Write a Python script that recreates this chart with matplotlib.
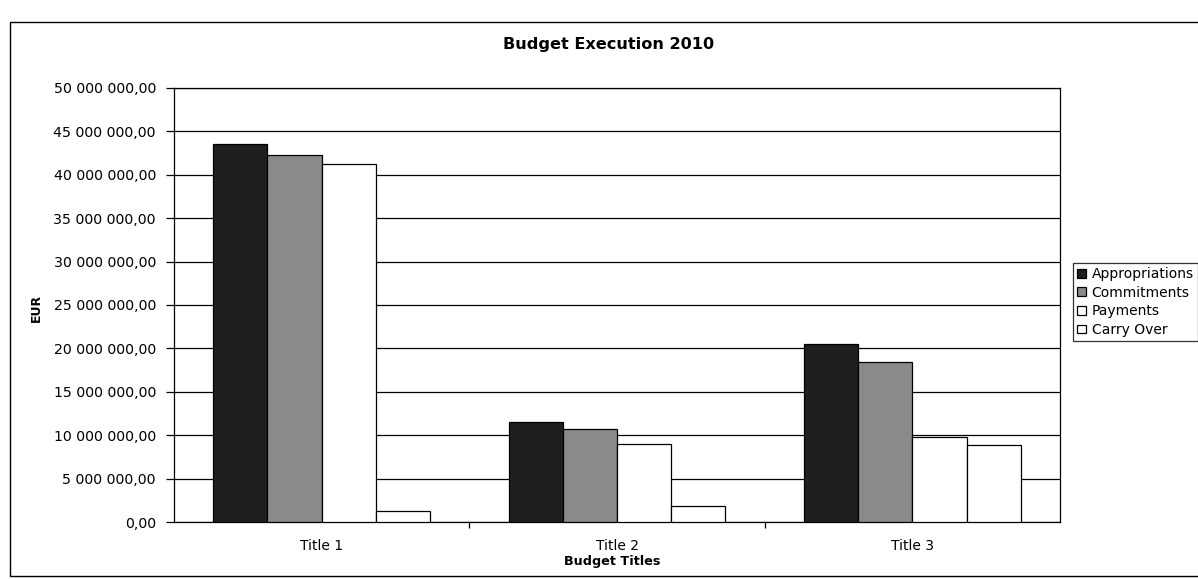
import matplotlib
matplotlib.use("Agg")
import matplotlib.pyplot as plt
from matplotlib.patches import Rectangle, Patch
from matplotlib.ticker import FuncFormatter, FixedLocator, MultipleLocator
import numpy as np

# ---- data ----
categories = ["Title 1", "Title 2", "Title 3"]
series_names = ["Appropriations", "Commitments", "Payments", "Carry Over"]
appropriations = [43.5e6, 11.5e6, 20.5e6]
commitments = [42.3e6, 10.7e6, 18.4e6]
payments = [41.3e6, 9.0e6, 9.8e6]
carry_over = [1.3e6, 1.9e6, 8.85e6]

series_values = [appropriations, commitments, payments, carry_over]
colors = ["#1f1f1f", "#8a8a8a", "#ffffff", "#ffffff"]

W, H = 1198, 579
fig = plt.figure(figsize=(W / 100, H / 100), dpi=100)
fig.patch.set_facecolor("white")
plt.rcParams["font.family"] = ["DejaVu Sans"]

# outer chart frame
fig.patches.append(Rectangle((10 / W, 1 - 576 / H), (1250 - 10) / W, (576 - 22) / H,
                             transform=fig.transFigure, fill=False,
                             edgecolor="black", linewidth=1.0))

left, right, top, bottom = 174, 1060, 88, 522
ax = fig.add_axes([left / W, 1 - bottom / H, (right - left) / W, (bottom - top) / H])

x = np.arange(len(categories))
bw = 0.1835
offsets = (np.arange(4) - 1.5) * bw
for vals, off, col, name in zip(series_values, offsets, colors, series_names):
    ax.bar(x + off, vals, width=bw, color=col, edgecolor="black", linewidth=0.9,
           label=name, zorder=3)

ax.set_xlim(-0.5, len(categories) - 0.5)
ax.set_ylim(0, 50e6)
ax.yaxis.set_major_locator(MultipleLocator(5e6))
ax.yaxis.set_major_formatter(FuncFormatter(
    lambda v, p: f"{v:,.2f}".replace(",", " ").replace(".", ",")))
ax.grid(axis="y", color="black", linewidth=0.9, zorder=0)

ax.set_xticks(x)
ax.set_xticklabels(categories)
ax.xaxis.set_minor_locator(FixedLocator([0.5, 1.5]))
ax.tick_params(axis="x", which="major", length=0, pad=12, labelsize=10)
ax.tick_params(axis="x", which="minor", length=4, direction="out", width=0.9)
ax.tick_params(axis="y", length=6, direction="out", width=0.9, pad=7, labelsize=10.2)

for s in ax.spines.values():
    s.set_linewidth(0.9)
    s.set_color("black")

# titles
fig.text(609 / W, 1 - 44 / H, "Budget Execution 2010", ha="center", va="center",
         fontsize=11.6, fontweight="bold")
fig.text(612 / W, 1 - 561 / H, "Budget Titles", ha="center", va="center",
         fontsize=9.2, fontweight="bold")
fig.text(36 / W, 1 - 308 / H, "EUR", ha="center", va="center", rotation=90,
         fontsize=9, fontweight="bold")

handles = [Patch(facecolor=c, edgecolor="black", linewidth=0.9) for c in colors]
leg = fig.legend(handles, series_names, loc="upper left",
                 bbox_to_anchor=(1073 / W, 1 - 263 / H), bbox_transform=fig.transFigure,
                 fontsize=10, frameon=True, fancybox=False, shadow=False,
                 handlelength=0.6, handleheight=0.6, handletextpad=0.45,
                 labelspacing=0.33, borderpad=0.3, borderaxespad=0)
leg.get_frame().set_edgecolor("black")
leg.get_frame().set_linewidth(0.9)

fig.savefig("out.png", dpi=100)
